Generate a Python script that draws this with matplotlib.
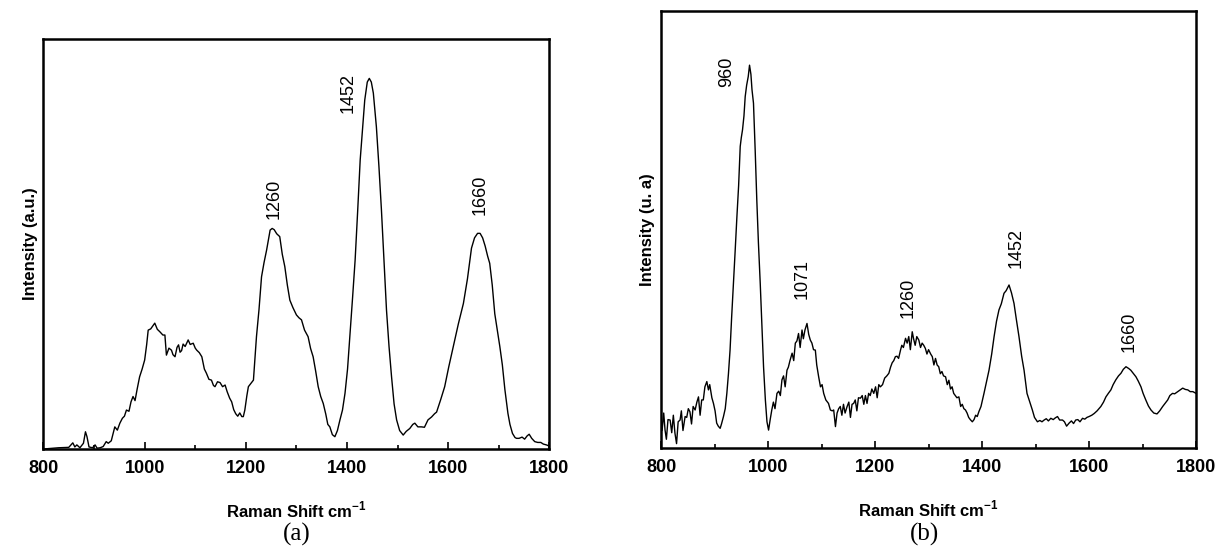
import numpy as np
import matplotlib
matplotlib.use("Agg")
import matplotlib.pyplot as plt
from matplotlib.ticker import MultipleLocator

plt.rcParams['font.family'] = ['Liberation Sans', 'DejaVu Sans']
plt.rcParams['mathtext.fontset'] = 'custom'
plt.rcParams['mathtext.rm'] = 'Liberation Sans'
plt.rcParams['mathtext.bf'] = 'Liberation Sans:bold'

# spectrum (a), intensity in % of the axis height
shift_a = [800, 830, 850, 858, 862, 866, 872, 879, 883, 886, 890, 897, 902, 906, 912, 918,
           924, 928, 934, 941, 946, 951, 956, 960, 964, 969, 973, 977, 981, 985, 990, 995,
           1000, 1004, 1007, 1012, 1016, 1020, 1025, 1030, 1036, 1040, 1043, 1048, 1053, 1056,
           1060, 1064, 1067, 1070, 1073, 1076, 1080, 1086, 1090, 1096, 1100, 1103, 1108, 1113,
           1118, 1122, 1127, 1132, 1136, 1139, 1144, 1149, 1154, 1159, 1163, 1168, 1172, 1176,
           1180, 1184, 1188, 1192, 1195, 1198, 1202, 1205, 1210, 1215, 1221, 1226, 1231, 1236,
           1241, 1248, 1252, 1256, 1261, 1267, 1272, 1277, 1282, 1287, 1293, 1300, 1305, 1310,
           1316, 1323, 1328, 1333, 1338, 1343, 1348, 1353, 1358, 1362, 1366, 1371, 1376, 1381,
           1386, 1391, 1396, 1401, 1406, 1411, 1416, 1421, 1426, 1431, 1435, 1440, 1444, 1448,
           1452, 1458, 1463, 1468, 1473, 1478, 1483, 1488, 1493, 1498, 1504, 1511, 1517, 1524,
           1530, 1534, 1540, 1547, 1553, 1560, 1567, 1573, 1577, 1585, 1593, 1601, 1610, 1620,
           1630, 1638, 1646, 1652, 1658, 1663, 1668, 1673, 1678, 1682, 1687, 1692, 1697, 1702,
           1707, 1712, 1718, 1722, 1727, 1732, 1735, 1740, 1746, 1751, 1756, 1760, 1765, 1771,
           1777, 1783, 1788, 1794, 1800]
int_a = [0, 0.3, 0.4, 1.5, 0.5, 1.0, 0.3, 1.4, 4.2, 3.0, 0.5, 0.3, 1.0, 0.2, 0.3, 0.6,
         1.8, 1.4, 2.0, 5.4, 4.6, 6.3, 7.5, 8.0, 9.5, 9.2, 11.5, 12.8, 11.8, 14.5, 17.6, 19.5,
         21.7, 25.5, 29.0, 29.3, 30.0, 30.7, 29.2, 28.6, 27.8, 27.8, 22.9, 24.6, 24.1, 23.0,
         22.5, 24.8, 25.4, 23.6, 24.0, 25.6, 25.0, 26.6, 25.5, 25.8, 24.6, 24.1, 23.5, 22.5,
         19.5, 18.5, 17.0, 16.8, 15.5, 15.2, 16.4, 16.2, 15.2, 15.6, 14.0, 12.4, 11.5, 9.6,
         8.6, 8.0, 8.8, 7.9, 7.9, 9.5, 13.0, 15.2, 16.0, 16.8, 27.4, 34.0, 42.0, 45.5,
         48.5, 53.4, 53.8, 53.5, 52.5, 51.8, 47.5, 44.5, 40.0, 36.3, 34.5, 32.7, 32.0, 31.5,
         29.0, 27.4, 24.5, 22.5, 19.0, 15.2, 12.8, 11.1, 8.5, 6.0, 5.4, 3.5, 3.0, 4.5,
         7.1, 9.5, 13.6, 19.5, 28.2, 37.0, 46.1, 58.0, 70.5, 78.5, 85.1, 89.5, 90.4, 89.5,
         86.8, 78.6, 69.0, 58.3, 46.0, 33.9, 25.0, 17.6, 11.0, 7.1, 4.5, 3.4, 4.3, 5.0,
         6.0, 6.3, 5.4, 5.4, 5.3, 7.1, 7.8, 8.6, 9.0, 12.0, 15.2, 20.0, 25.0, 30.5,
         35.5, 41.5, 49.0, 51.5, 52.6, 52.6, 51.5, 49.5, 47.0, 45.3, 40.0, 33.0, 29.0, 25.0,
         20.5, 14.5, 8.7, 6.0, 3.8, 2.8, 2.6, 2.6, 2.9, 2.4, 3.2, 3.6, 2.6, 1.8,
         1.6, 1.6, 1.2, 1.0, 0.7]

# spectrum (b)
shift_b = [800, 802, 805, 807.5, 810, 813, 817, 820, 823, 826, 829, 832, 835.6, 838, 841, 845,
           848, 851, 854, 857, 860, 863.7, 867, 870, 873, 876, 879, 882, 885.6, 888.6, 891, 895,
           898, 901, 904, 907, 910.5, 913, 916.7, 920, 923, 926, 929, 932, 935.4, 938.5, 941.8,
           945, 948, 950, 952.3, 955, 957.3, 960, 963, 965.4, 968, 970, 972.8, 976, 979, 982,
           985.4, 988.5, 991.6, 995, 998, 1001, 1004, 1007, 1010, 1013, 1016.7, 1020, 1023, 1026,
           1029, 1032, 1035.4, 1038, 1041, 1045, 1048, 1051, 1054, 1057, 1060, 1063.5, 1066, 1069,
           1072.8, 1076, 1079, 1082, 1085, 1088.4, 1091, 1094.6, 1098, 1101, 1104, 1108, 1113,
           1116.5, 1120, 1122.7, 1126, 1129, 1132, 1135, 1138, 1141, 1144, 1147.8, 1151, 1154,
           1157, 1160, 1163, 1166, 1169, 1172.7, 1176, 1179, 1182, 1185, 1188, 1191, 1194,
           1197.6, 1201, 1204, 1207, 1210, 1214, 1218, 1222, 1225.8, 1229, 1232, 1235, 1238,
           1241, 1244, 1247.6, 1250, 1253, 1257, 1260, 1263, 1266, 1269.5, 1272, 1275, 1278,
           1281.8, 1285, 1288, 1291, 1294, 1297, 1300, 1304, 1307, 1310, 1313, 1316, 1319, 1322,
           1325, 1328, 1331.8, 1335, 1338, 1341, 1344, 1347, 1350, 1353, 1356.7, 1360, 1363,
           1366, 1369, 1372, 1375, 1378, 1381.8, 1385, 1388, 1391, 1394, 1398, 1403.6, 1408,
           1413, 1418, 1422.5, 1427, 1431.6, 1436, 1441, 1445, 1450.4, 1455, 1459.7, 1464,
           1469, 1474, 1478.5, 1484, 1488, 1494, 1498, 1503.5, 1508, 1512, 1516, 1520, 1524,
           1528.5, 1533, 1537, 1541, 1545, 1550.4, 1554, 1558, 1562.7, 1567, 1571, 1575, 1579,
           1583, 1587.8, 1592, 1596, 1600, 1605, 1609.6, 1615, 1622, 1627, 1631.5, 1636,
           1640.8, 1645, 1650, 1655, 1659.6, 1664, 1669, 1674, 1678, 1683, 1687.6, 1692, 1697,
           1701, 1706, 1711, 1715.7, 1721, 1727, 1732, 1737.6, 1742, 1747, 1751, 1756, 1760,
           1765.7, 1770, 1775, 1780, 1784.5, 1789, 1794, 1800]
int_b = [7.2, 4.0, 8.0, 4.1, 2.0, 6.5, 6.4, 3.5, 7.5, 3.4, 1.0, 6.0, 6.4, 8.5, 4.0, 7.2,
         7.0, 9.0, 8.3, 5.5, 9.5, 8.7, 10.5, 11.7, 7.5, 11.0, 11.0, 14.0, 15.2, 13.3, 14.5, 11.5,
         10.2, 8.5, 5.7, 5.0, 4.5, 5.5, 7.2, 9.0, 12.5, 17.0, 22.4, 30.0, 37.7, 45.0, 52.9,
         60.0, 69.0, 71.0, 72.8, 76.0, 80.4, 83.0, 85.0, 87.6, 85.5, 82.0, 78.9, 68.0, 56.7, 47.0,
         37.7, 28.0, 18.6, 11.0, 6.0, 4.1, 6.5, 8.7, 10.5, 9.0, 12.5, 13.0, 12.0, 15.6,
         16.5, 14.0, 17.8, 18.5, 20.0, 21.7, 20.0, 24.0, 24.5, 26.2, 23.0, 27.0, 25.0, 27.0,
         28.5, 26.0, 24.7, 24.0, 22.5, 22.4, 19.0, 16.3, 14.0, 14.5, 12.5, 11.0, 10.2,
         8.7, 8.5, 8.7, 4.9, 8.0, 9.0, 9.5, 7.5, 10.0, 8.0, 9.5, 10.5, 7.0,
         10.0, 10.2, 11.0, 8.5, 11.5, 11.4, 12.0, 10.0, 12.0, 10.2, 12.5, 12.0, 13.5,
         12.5, 14.0, 11.5, 14.5, 14.0, 14.5, 16.0, 16.5, 17.1, 18.5, 19.5, 20.0, 20.9,
         21.0, 20.5, 22.4, 23.5, 23.0, 25.1, 24.0, 25.5, 22.5, 26.6, 25.0, 23.5, 25.5,
         24.7, 23.0, 24.0, 23.5, 22.8, 21.5, 22.5, 21.5, 20.9, 19.0, 20.5, 19.0, 18.6, 17.0,
         17.5, 16.5, 16.3, 14.5, 15.5, 13.5, 14.0, 12.5, 12.0, 11.5, 11.7, 9.5, 10.0,
         9.0, 8.7, 8.0, 7.0, 6.5, 6.0, 6.5, 7.5, 7.2, 8.3, 9.5, 12.5, 15.0,
         17.8, 21.5, 25.5, 29.0, 31.6, 33.0, 35.4, 36.0, 37.3, 35.5, 33.1, 29.5,
         25.5, 21.0, 17.8, 12.5, 11.0, 8.7, 7.0, 6.0, 6.3, 6.0, 6.4, 6.7, 6.2,
         6.8, 6.5, 6.9, 7.2, 6.4, 6.4, 6.0, 5.0, 5.7, 6.2, 5.6, 6.4, 6.5,
         6.0, 6.8, 6.6, 7.0, 7.2, 7.5, 7.9, 8.5, 9.5, 10.5, 11.7, 12.5,
         13.3, 14.5, 15.6, 16.5, 17.1, 18.0, 18.6, 18.2, 17.8, 17.0, 16.3, 15.3, 14.0,
         12.5, 11.0, 9.6, 8.7, 8.0, 7.8, 8.5, 9.5, 10.2, 11.0, 12.0, 12.5, 12.4,
         12.9, 13.3, 13.7, 13.4, 13.3, 12.9, 12.9, 12.5]

peaks_a = ["1260", "1452", "1660"]
peaks_b = ["960", "1071", "1260", "1452", "1660"]

# label anchors (x, bottom of text) for each peak
pos_a = [(1256, 56), (1402, 82), (1663, 57)]
pos_b = [(923, 82.6), (1063, 34), (1261, 29.7), (1464, 41.2), (1675, 22)]

fig = plt.figure(figsize=(12.28, 5.52), dpi=100)
ax_a = fig.add_axes([0.0354, 0.1866, 0.412, 0.7427])
ax_b = fig.add_axes([0.5383, 0.1884, 0.4357, 0.7917])


def style(ax, ylabel):
    ax.set_xlim(800, 1800)
    ax.set_ylim(0, 100)
    ax.set_yticks([])
    ax.xaxis.set_major_locator(MultipleLocator(200))
    ax.xaxis.set_minor_locator(MultipleLocator(100))
    ax.tick_params(axis='x', which='major', direction='in', length=5, width=1.2, pad=8)
    ax.tick_params(axis='x', which='minor', direction='in', length=3, width=1.2)
    for lab in ax.get_xticklabels():
        lab.set_fontweight('bold')
        lab.set_fontsize(13)
    for sp in ax.spines.values():
        sp.set_linewidth(1.8)
    ax.set_xlabel(r'Raman Shift cm$^{\mathbf{-1}}$', fontsize=12, fontweight='bold', labelpad=16)
    ax.set_ylabel(ylabel, fontsize=12, fontweight='bold', labelpad=4)


ax_a.plot(shift_a, int_a, color='black', lw=1.0)
style(ax_a, 'Intensity (a.u.)')
for txt, (px, py) in zip(peaks_a, pos_a):
    ax_a.text(px, py, txt, rotation=90, ha='center', va='bottom', fontsize=13)

ax_b.plot(shift_b, int_b, color='black', lw=1.0)
style(ax_b, 'Intensity (u. a)')
for txt, (px, py) in zip(peaks_b, pos_b):
    ax_b.text(px, py, txt, rotation=90, ha='center', va='bottom', fontsize=13)

fig.text(0.2418, 0.032, '(a)', ha='center', va='center', fontsize=18, family='Liberation Serif')
fig.text(0.7532, 0.032, '(b)', ha='center', va='center', fontsize=18, family='Liberation Serif')

fig.savefig('out.png', dpi=100)
